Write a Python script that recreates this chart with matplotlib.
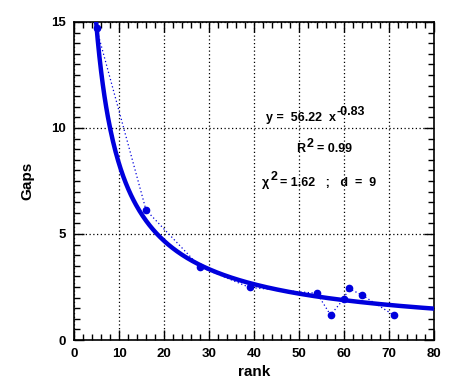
import numpy as np
import matplotlib
matplotlib.use("Agg")
import matplotlib.pyplot as plt
from matplotlib.ticker import MultipleLocator
from matplotlib.transforms import offset_copy

rank = [5, 16, 28, 39, 54, 57, 60, 61, 64, 71]
gaps = [14.7, 6.13, 3.45, 2.48, 2.2, 1.18, 1.95, 2.44, 2.12, 1.18]
fit_a = 56.22
fit_b = -0.83

plt.rcParams['font.family'] = ['Liberation Sans', 'DejaVu Sans']
blue = '#0000dd'

fig = plt.figure(figsize=(4.76, 3.9), dpi=100)
ax = fig.add_axes([0.1555, 0.1282, 0.7563, 0.8154])

xf = np.linspace(4.5, 80, 400)
ax.plot(xf, fit_a * xf ** fit_b, color=blue, lw=3.2, solid_capstyle='butt', zorder=3)
ax.plot(rank, gaps, color=blue, lw=0.9, ls=(0, (1, 2)), zorder=3)
ax.plot(rank, gaps, 'o', color=blue, ms=4.5, zorder=4)

ax.set_xlim(0, 80)
ax.set_ylim(0, 15)
ax.xaxis.set_major_locator(MultipleLocator(10))
ax.xaxis.set_minor_locator(MultipleLocator(2))
ax.yaxis.set_major_locator(MultipleLocator(5))
ax.yaxis.set_minor_locator(MultipleLocator(0.5))
ax.tick_params(which='both', direction='in', top=True, right=True, width=1)
ax.tick_params(which='major', length=7, labelsize=9.5, pad=6)
ax.tick_params(which='minor', length=4)
for lab in ax.get_xticklabels() + ax.get_yticklabels():
    lab.set_fontweight('bold')
ax.grid(True, which='major', color='black', ls=(0, (1, 2)), lw=0.9)
for s in ax.spines.values():
    s.set_linewidth(1.2)

ax.set_xlabel('rank', fontsize=11, fontweight='bold', labelpad=3)
ax.set_ylabel('Gaps', fontsize=11, fontweight='bold', labelpad=12)

fig.canvas.draw()
r = fig.canvas.get_renderer()


def with_sup(x, y, base, sup, size=9):
    t = ax.text(x, y, base, transform=ax.transAxes, fontsize=size,
                fontweight='bold', ha='left', va='baseline')
    bb = t.get_window_extent(r)
    xs, _ = ax.transAxes.inverted().transform((bb.x1 + 1, bb.y0))
    tr = offset_copy(ax.transAxes, fig=fig, x=0, y=4, units='points')
    ax.text(xs, y, sup, transform=tr, fontsize=size, fontweight='bold',
            ha='left', va='baseline')
    return xs


with_sup(0.532, 0.69, 'y =  56.22  x', '-0.83')
xs = with_sup(0.618, 0.59, 'R', '2')
ax.text(xs + 0.03, 0.59, '= 0.99', transform=ax.transAxes, fontsize=9,
        fontweight='bold', ha='left', va='baseline')
xs = with_sup(0.523, 0.485, '\u03c7', '2')
ax.text(xs + 0.025, 0.485, '= 1.62   ;   d  =  9', transform=ax.transAxes, fontsize=9,
        fontweight='bold', ha='left', va='baseline')

fig.savefig('out.png', dpi=100)
